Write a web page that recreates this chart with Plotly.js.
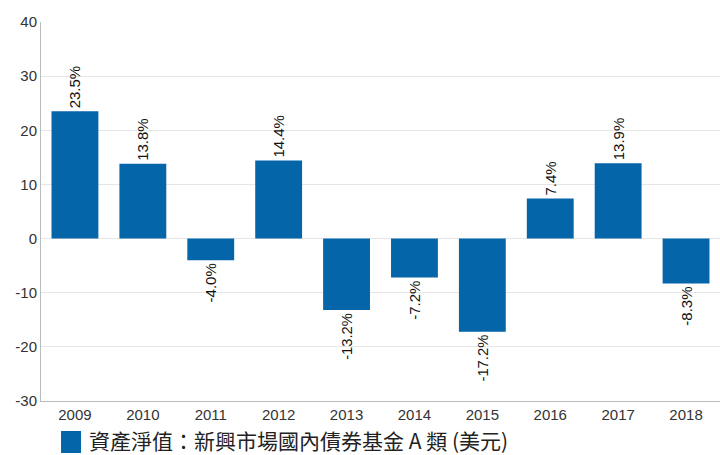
<!DOCTYPE html>
<html>
<head>
<meta charset="utf-8">
<script src="https://cdn.plot.ly/plotly-3.0.1.min.js"></script>
<style>html,body{margin:0;padding:0;background:#fff;}#chart{width:720px;height:455px;}</style>
</head>
<body>
<div id="chart"></div>
<script>
const years = ["2009","2010","2011","2012","2013","2014","2015","2016","2017","2018"];
const values = [23.5, 13.8, -4.0, 14.4, -13.2, -7.2, -17.2, 7.4, 13.9, -8.3];
const labels = ["23.5%","13.8%","-4.0%","14.4%","-13.2%","-7.2%","-17.2%","7.4%","13.9%","-8.3%"];
const seriesName = "資產淨值：新興市場國內債券基金 A 類 (美元)";
const yTicks = [-30,-20,-10,0,10,20,30,40];
const yTickText = ["-30","-20","-10","0","10","20","30","40"];
const barColor = "#0565A9";

const trace = {
  type: "bar",
  x: years,
  y: values,
  name: seriesName,
  text: labels,
  textposition: "outside",
  textangle: -90,
  cliponaxis: false,
  textfont: {family: "Liberation Sans, Arial, sans-serif", size: 15, color: "#111"},
  marker: {color: barColor},
  showlegend: false,
  hoverinfo: "none"
};

const layout = {
  width: 720, height: 455,
  margin: {l: 41, r: 0, t: 22, b: 54},
  paper_bgcolor: "#fff", plot_bgcolor: "#fff",
  bargap: 0.31,
  font: {family: "Liberation Sans, Arial, sans-serif", color: "#333"},
  xaxis: {
    type: "category",
    tickfont: {size: 15, color: "#333"},
    showline: true, linecolor: "#bbb", linewidth: 1,
    ticks: "", showgrid: false
  },
  yaxis: {
    range: [-30, 40],
    tickvals: yTicks,
    ticktext: yTickText,
    tickfont: {size: 15, color: "#333"},
    showgrid: true, gridcolor: "#e6e6e6",
    zeroline: false,
    showline: true, linecolor: "#bbb", linewidth: 1,
    ticks: ""
  },
  showlegend: false,
  shapes: [{
    type: "rect", xref: "paper", yref: "paper",
    x0: 0.0295, x1: 0.0589, y0: -0.0792, y1: -0.1372,
    fillcolor: barColor, line: {width: 0}
  }],
  annotations: [{
    xref: "paper", yref: "paper",
    x: 0.0692, y: -0.1029, xanchor: "left", yanchor: "middle",
    borderpad: 0,
    text: seriesName, showarrow: false,
    font: {family: "Noto Sans CJK TC, sans-serif", size: 21, color: "#222"}
  }]
};

Plotly.newPlot("chart", [trace], layout, {staticPlot: true, displayModeBar: false});
</script>
</body>
</html>
